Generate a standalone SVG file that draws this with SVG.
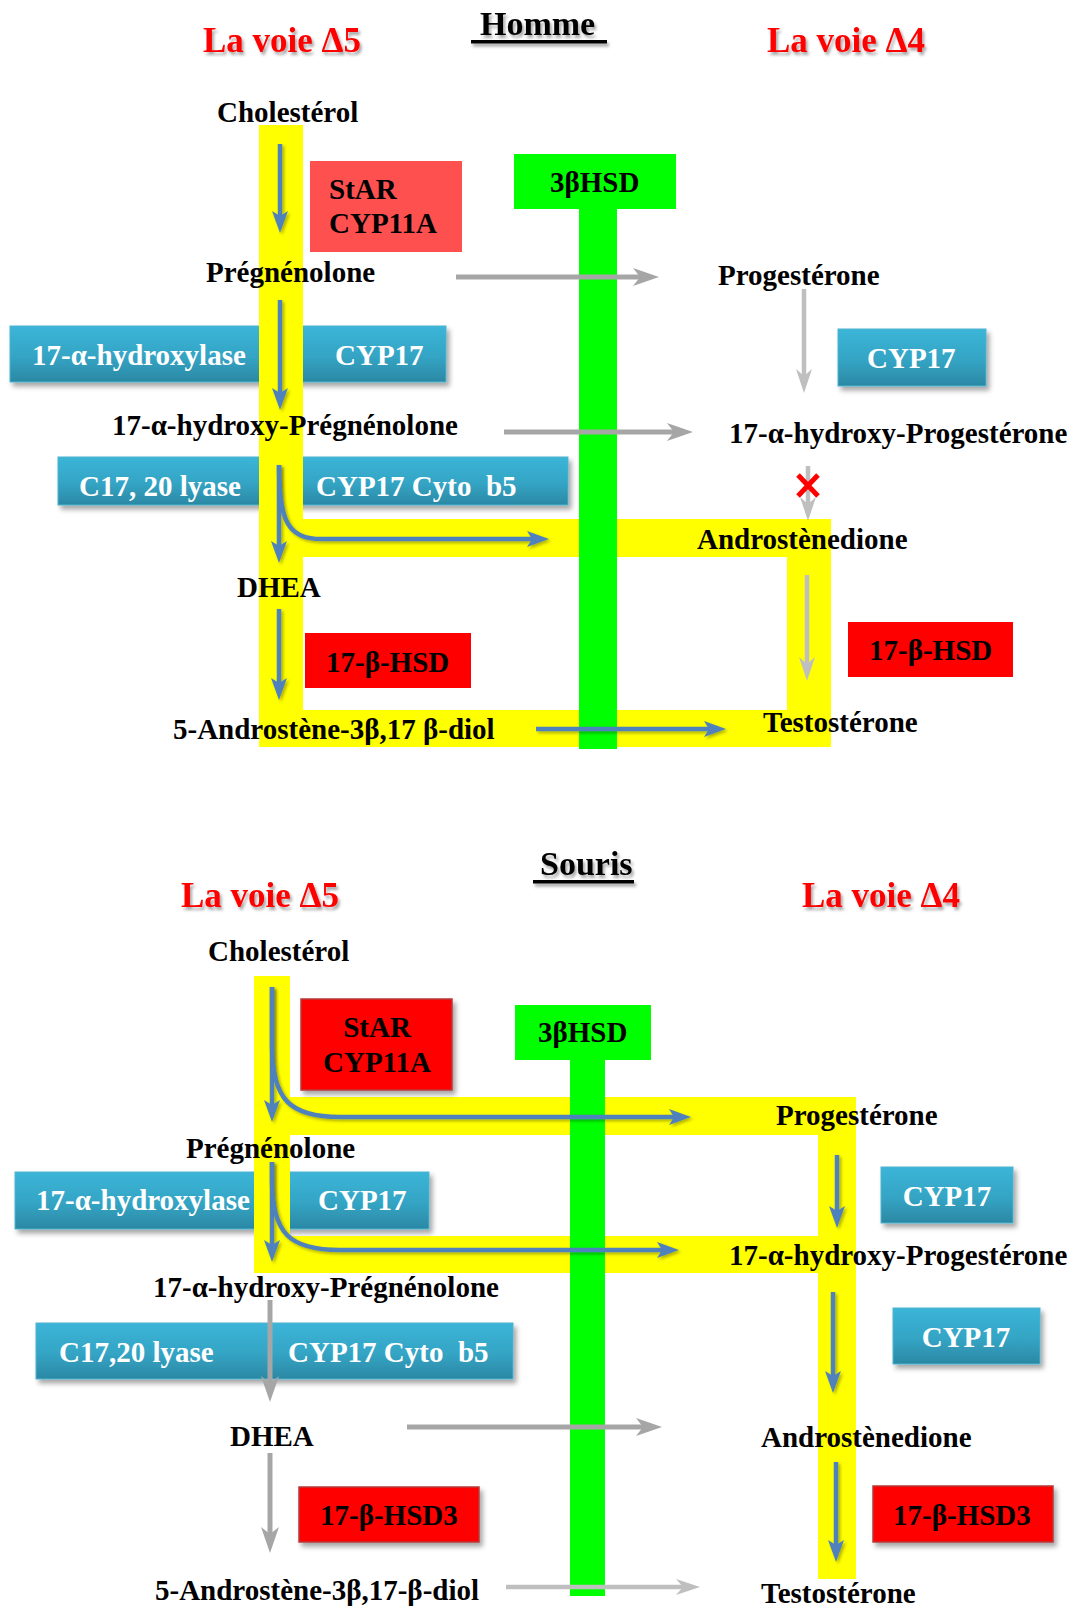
<svg xmlns="http://www.w3.org/2000/svg" width="1078" height="1608" viewBox="0 0 1078 1608">
<style>
text{font-family:"Liberation Serif","Times New Roman",serif;font-weight:bold;font-size:29px;fill:#000;white-space:pre}
.w{fill:#fff}
.title{fill:#f00;font-size:35px;filter:url(#tsh)}
.hdr{font-size:34px;filter:url(#tsh)}
.mid{text-anchor:middle}
.yel{fill:#ff0}
.grn{fill:#0f0}
.bbox{fill:url(#bg);stroke:#4fb3cf;stroke-width:1;filter:url(#sh)}
.rbox{fill:#f00}
.rbox2{fill:#f00;stroke:#b83a3a;stroke-width:1.5;filter:url(#sh)}
.ba{fill:none;stroke:#4f81bd;stroke-width:4.5;marker-end:url(#mb);filter:url(#ash)}
.ga{fill:none;stroke:#a6a6a6;stroke-width:5;marker-end:url(#mg)}
.gl{fill:none;stroke:#bfbfbf;stroke-width:4.5;marker-end:url(#ml)}
</style>
<defs>
<linearGradient id="bg" x1="0" y1="0" x2="0" y2="1">
<stop offset="0" stop-color="#3bb5d8"/>
<stop offset="0.55" stop-color="#34a4c4"/>
<stop offset="1" stop-color="#2b88a4"/>
</linearGradient>
<filter id="sh" x="-10%" y="-20%" width="130%" height="160%">
<feDropShadow dx="3" dy="4" stdDeviation="2.5" flood-color="#000" flood-opacity="0.35"/>
</filter>
<filter id="tsh" filterUnits="userSpaceOnUse" x="0" y="0" width="1078" height="1608">
<feDropShadow dx="2" dy="3" stdDeviation="1.5" flood-color="#000" flood-opacity="0.35"/>
</filter>
<filter id="ash" filterUnits="userSpaceOnUse" x="0" y="0" width="1078" height="1608">
<feDropShadow dx="2" dy="2" stdDeviation="1.5" flood-color="#000" flood-opacity="0.3"/>
</filter>
<marker id="mb" markerUnits="userSpaceOnUse" markerWidth="24" markerHeight="18" refX="5" refY="8" orient="auto">
<path d="M0,0 L22,8 L0,16 L5,8 z" fill="#4f81bd"/>
</marker>
<marker id="mg" markerUnits="userSpaceOnUse" markerWidth="28" markerHeight="20" refX="7" refY="9" orient="auto">
<path d="M0,0 L26,9 L0,18 L7,9 z" fill="#a6a6a6"/>
</marker>
<marker id="ml" markerUnits="userSpaceOnUse" markerWidth="28" markerHeight="20" refX="7" refY="8" orient="auto">
<path d="M0,0 L24,8 L0,16 L7,8 z" fill="#bfbfbf"/>
</marker>
</defs>

<!-- ===== HOMME ===== -->
<g id="titles-top">
<text class="title" x="203" y="52">La voie Δ5</text>
<text class="hdr" x="480" y="35">Homme</text>
<rect x="471" y="40" width="136" height="3.5" fill="#000" filter="url(#tsh)"/>
<text class="title" x="767" y="52">La voie Δ4</text>
</g>

<g id="enzymes-top">
<g id="h-star"><rect x="310" y="161" width="152" height="91" fill="#ff5050"/><text x="329" y="199">StAR</text><text x="329" y="233">CYP11A</text></g>
<g id="h-hydroxylase"><rect class="bbox" x="10" y="326" width="436" height="56"/><text class="w" x="32" y="365">17-α-hydroxylase</text><text class="w" x="335" y="365">CYP17</text></g>
<g id="h-cyp17-right"><rect class="bbox" x="838" y="329" width="148" height="57"/><text class="w" x="867" y="368">CYP17</text></g>
<g id="h-lyase"><rect class="bbox" x="58" y="457" width="510" height="48"/><text class="w" x="79" y="496">C17, 20 lyase</text><text class="w" x="316" y="496">CYP17 Cyto  b5</text></g>
<g id="h-hsd-left"><rect class="rbox" x="305" y="633" width="166" height="55"/><text x="326" y="672">17-β-HSD</text></g>
<g id="h-hsd-right"><rect class="rbox" x="848" y="622" width="165" height="55"/><text x="869" y="660">17-β-HSD</text></g>
</g>

<g id="h-yellow-path">
<rect class="yel" x="259" y="125" width="44" height="622"/>
<rect class="yel" x="303" y="519" width="528" height="38"/>
<rect class="yel" x="787" y="519" width="44" height="228"/>
<rect class="yel" x="259" y="710" width="572" height="37"/>
</g>
<g id="h-3bhsd">
<rect class="grn" x="514" y="154" width="162" height="55"/>
<rect class="grn" x="579" y="209" width="38" height="540"/>
<text x="550" y="192">3βHSD</text>
</g>

<g id="connectors-top">
<line class="ba" x1="280" y1="144" x2="280" y2="216"/>
<line class="ba" x1="280" y1="300" x2="280" y2="393"/>
<line class="ba" x1="279" y1="465" x2="279" y2="546"/>
<path class="ba" d="M279,465 C279,522 288,539 322,539 L532,539"/>
<line class="ba" x1="279" y1="609" x2="279" y2="683"/>
<line class="ba" x1="536" y1="729" x2="709" y2="729"/>
<line class="ga" x1="456" y1="277" x2="640" y2="277"/>
<line class="gl" x1="804" y1="289" x2="804" y2="376"/>
<line class="ga" x1="504" y1="432" x2="674" y2="432"/>
<line class="gl" x1="808" y1="466" x2="808" y2="504"/>
<line class="gl" x1="807" y1="575" x2="807" y2="664"/>
<g id="block-x" stroke="#f00" stroke-width="5"><line x1="798" y1="475" x2="818" y2="496"/><line x1="818" y1="475" x2="798" y2="496"/></g>
</g>

<g id="metabolites-top">
<text id="h-chol" x="217" y="122">Cholestérol</text>
<text id="h-preg" x="206" y="282">Prégnénolone</text>
<text id="h-prog" x="718" y="285">Progestérone</text>
<text id="h-17preg" x="112" y="435">17-α-hydroxy-Prégnénolone</text>
<text id="h-17prog" x="729" y="443">17-α-hydroxy-Progestérone</text>
<text id="h-andro" x="697" y="549">Androstènedione</text>
<text id="h-dhea" x="237" y="597">DHEA</text>
<text id="h-testo" x="763" y="732">Testostérone</text>
<text id="h-diol" x="173" y="739">5-Androstène-3β,17 β-diol</text>
</g>

<!-- ===== SOURIS ===== -->
<g id="titles-bottom">
<text class="hdr" x="540" y="875">Souris</text>
<rect x="533" y="880" width="101" height="3.5" fill="#000" filter="url(#tsh)"/>
<text class="title" x="181" y="907">La voie Δ5</text>
<text class="title" x="802" y="907">La voie Δ4</text>
</g>

<g id="enzymes-bottom-under">
<g id="s-hydroxylase"><rect class="bbox" x="15" y="1172" width="414" height="57"/><text class="w" x="36" y="1210">17-α-hydroxylase</text><text class="w" x="318" y="1210">CYP17</text></g>
</g>

<g id="s-yellow-path">
<rect class="yel" x="254" y="976" width="36" height="297"/>
<rect class="yel" x="290" y="1097" width="566" height="38"/>
<rect class="yel" x="818" y="1097" width="38" height="482"/>
<rect class="yel" x="254" y="1236" width="602" height="37"/>
</g>

<g id="enzymes-bottom">
<g id="s-star"><rect class="rbox2" x="301" y="999" width="151" height="91"/><text class="mid" x="377" y="1037">StAR</text><text class="mid" x="377" y="1072">CYP11A</text></g>
<g id="s-cyp17-a"><rect class="bbox" x="881" y="1167" width="132" height="56"/><text class="w mid" x="947" y="1206">CYP17</text></g>
<g id="s-cyp17-b"><rect class="bbox" x="893" y="1308" width="147" height="56"/><text class="w mid" x="966" y="1347">CYP17</text></g>
<g id="s-lyase"><rect class="bbox" x="36" y="1323" width="477" height="56"/><text class="w" x="59" y="1362">C17,20 lyase</text><text class="w" x="288" y="1362">CYP17 Cyto  b5</text></g>
<g id="s-hsd3-left"><rect class="rbox2" x="299" y="1487" width="180" height="55"/><text x="320" y="1525">17-β-HSD3</text></g>
<g id="s-hsd3-right"><rect class="rbox2" x="873" y="1486" width="180" height="56"/><text x="893" y="1525">17-β-HSD3</text></g>
</g>

<g id="s-3bhsd">
<rect class="grn" x="515" y="1005" width="136" height="55"/>
<rect class="grn" x="570" y="1060" width="35" height="536"/>
<text x="538" y="1042">3βHSD</text>
</g>

<g id="connectors-bottom">
<line class="ba" x1="272" y1="987" x2="272" y2="1105"/>
<path class="ba" d="M272,987 L272,1045 C272,1100 290,1117 340,1117 L674,1117"/>
<line class="ba" x1="272" y1="1162" x2="272" y2="1245"/>
<path class="ba" d="M272,1162 L272,1180 C272,1234 290,1250 340,1250 L662,1250"/>
<line class="ba" x1="837" y1="1155" x2="837" y2="1211"/>
<line class="ba" x1="833" y1="1292" x2="833" y2="1376"/>
<line class="ba" x1="836" y1="1462" x2="836" y2="1545"/>
<line class="ga" x1="270" y1="1300" x2="270" y2="1383"/>
<line class="ga" x1="407" y1="1427" x2="643" y2="1427"/>
<line class="ga" x1="270" y1="1453" x2="270" y2="1534"/>
<line class="gl" x1="506" y1="1587" x2="683" y2="1587"/>
</g>

<g id="metabolites-bottom">
<text id="s-chol" x="208" y="961">Cholestérol</text>
<text id="s-prog" x="776" y="1125">Progestérone</text>
<text id="s-preg" x="186" y="1158">Prégnénolone</text>
<text id="s-17prog" x="729" y="1265">17-α-hydroxy-Progestérone</text>
<text id="s-17preg" x="153" y="1297">17-α-hydroxy-Prégnénolone</text>
<text id="s-dhea" x="230" y="1446">DHEA</text>
<text id="s-andro" x="761" y="1447">Androstènedione</text>
<text id="s-diol" x="155" y="1600">5-Androstène-3β,17-β-diol</text>
<text id="s-testo" x="761" y="1603">Testostérone</text>
</g>
</svg>
